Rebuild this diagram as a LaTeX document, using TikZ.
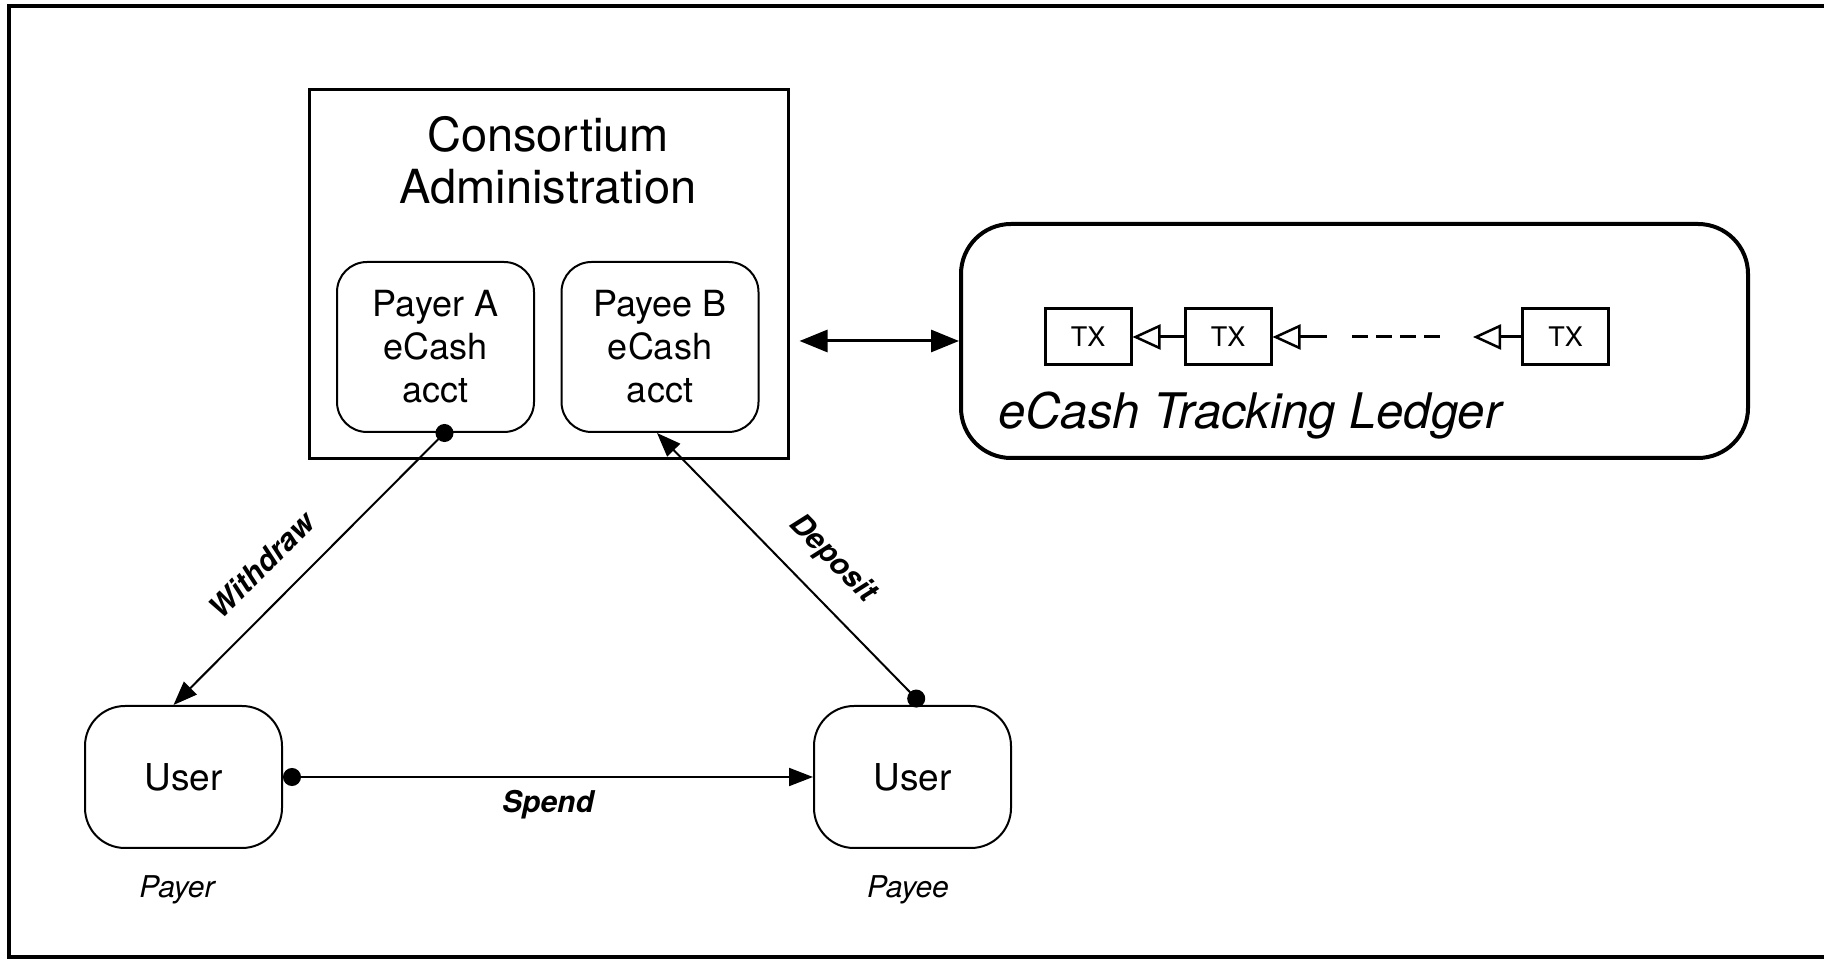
\documentclass[tikz,border=0pt]{standalone}
\usepackage{fontspec}
\setmainfont{TeX Gyre Heros}
\usetikzlibrary{arrows.meta}

\begin{document}
\begin{tikzpicture}[>={Triangle[length=24bp,width=18bp]},line join=miter,
  acct/.style={draw,line width=2bp,rounded corners=30bp,inner sep=0pt,minimum width=197bp,minimum height=170bp,align=center,font=\fontsize{36bp}{43bp}\selectfont},
  user/.style={draw,line width=2bp,rounded corners=40bp,inner sep=0pt,minimum width=197bp,minimum height=142bp,font=\fontsize{37bp}{44bp}\selectfont},
  tx/.style={draw,line width=3bp,inner sep=0pt,minimum width=86bp,minimum height=56bp,font=\fontsize{27bp}{32bp}\selectfont},
  txarrow/.style={line width=3bp,-{Triangle[open,length=28bp,width=25bp,line width=2.5bp]}},
  flow/.style={line width=2bp,{Circle[length=18bp]}->},
  flowlabel/.style={inner sep=0pt,font=\fontsize{30bp}{36bp}\selectfont\bfseries\itshape},
  role/.style={inner sep=0pt,font=\fontsize{30bp}{36bp}\selectfont\itshape},
]
%%
\useasboundingbox (0bp,0bp) rectangle (1824bp,959bp);
\draw [line width=4bp] (9bp,2bp) rectangle (1840bp,953bp);
\node (node_admin) at (548.5bp,684.5bp) [draw,line width=3bp,inner sep=0pt,minimum width=479bp,minimum height=369bp] {};
  \node (node_title) at (548bp,799bp) [align=center,inner sep=0pt,font=\fontsize{47bp}{52bp}\selectfont] {Consortium\\Administration};
  \node (node_acct_a) at (435.5bp,612bp) [acct] {Payer A\\eCash\\acct};
  \node (node_acct_b) at (660bp,612bp) [acct] {Payee B\\eCash\\acct};
  \node (node_ledger) at (1354.5bp,618bp) [draw,line width=4bp,rounded corners=50bp,inner sep=0pt,minimum width=787bp,minimum height=234bp] {};
  \node (node_tx1) at (1088bp,622bp) [tx] {TX};
  \node (node_tx2) at (1228bp,622bp) [tx] {TX};
  \node (node_tx3) at (1565.5bp,622bp) [tx] {TX};
  \node (node_ledger_label) at (998bp,530bp) [anchor=base west,inner sep=0pt,font=\fontsize{49bp}{58bp}\selectfont\itshape] {eCash Tracking Ledger};
  \node (node_user_a) at (183.5bp,182bp) [user] {User};
  \node (node_user_b) at (912.5bp,182bp) [user] {User};
  \node (node_payer) at (177bp,69bp) [role] {Payer};
  \node (node_payee) at (908bp,69bp) [role] {Payee};
  \coordinate (gap_r) at (1327bp,622bp);
  \coordinate (dash_a) at (1352bp,622bp);
  \coordinate (dash_b) at (1442bp,622bp);
  \coordinate (gap_l) at (1473bp,622bp);
  \draw [txarrow] (node_tx2) -- (node_tx1);
  \draw [txarrow] (gap_r) -- (node_tx2);
  \draw [line width=3bp,dash pattern=on 16bp off 8bp] (dash_a) -- (dash_b);
  \draw [txarrow] (node_tx3) -- (gap_l);
  \draw [line width=3bp,{Triangle[length=28bp,width=22bp]}-{Triangle[length=28bp,width=22bp]},shorten <=10bp] (node_admin.east |- node_ledger.west) -- (node_ledger.west);
  \draw [flow] (node_user_a) -- node[flowlabel,midway,below=12bp] {Spend} (node_user_b);
  \draw [flow,shorten <=-9bp] ([xshift=9bp]node_acct_a.south) -- node[flowlabel,pos=0.58,sloped,above=24bp] {Withdraw} ([xshift=-10bp]node_user_a.north);
  \draw [flow] ([xshift=10bp]node_user_b.north) -- node[flowlabel,pos=0.44,sloped,above=22bp] {Deposit} ([xshift=-3bp]node_acct_b.south);
%
\end{tikzpicture}
\end{document}
